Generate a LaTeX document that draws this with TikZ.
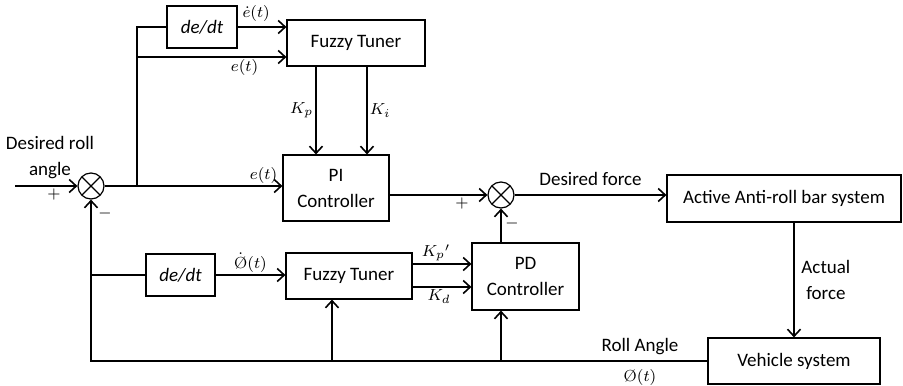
\documentclass[tikz,border=0pt]{standalone}
\usepackage{fontspec}
\setsansfont{Carlito}
\usetikzlibrary{arrows.meta}

\tikzset{
    txt/.style={font=\sffamily\fontsize{9.5}{13}\selectfont, align=center},
    block/.style={txt, draw, line width=0.6pt, inner sep=0pt},
    summer/.style={draw, circle, line width=0.6pt, minimum size=13pt, inner sep=0pt,
        path picture={\draw[line width=0.6pt]
            (path picture bounding box.north west) -- (path picture bounding box.south east)
            (path picture bounding box.north east) -- (path picture bounding box.south west);}},
    sig/.style={line width=0.8pt},
    arr/.style={sig, -{Straight Barb[length=3.5pt,width=6.5pt]}},
    mlbl/.style={font=\footnotesize, inner sep=1pt},
}

\begin{document}
\begin{tikzpicture}[x=0.5pt, y=-0.5pt]
    \useasboundingbox (0,0) rectangle (903,385);

    % Blocks
    \node[block, minimum width=35pt, minimum height=21pt] (ddtA) at (202,27) {\textit{de/dt}};
    \node[block, minimum width=69pt, minimum height=23pt] (fuzzyA) at (356,43) {Fuzzy Tuner};
    \node[block, minimum width=53pt, minimum height=33pt] (pi) at (336,188) {PI\\Controller};
    \node[block, minimum width=117pt, minimum height=23.5pt] (active) at (784,198.5) {Active Anti-roll bar system};
    \node[block, minimum width=86pt, minimum height=23pt] (vehicle) at (794,361) {Vehicle system};
    \node[block, minimum width=53.5pt, minimum height=33.5pt] (pd) at (525.5,276.5) {PD\\Controller};
    \node[block, minimum width=63pt, minimum height=23pt] (fuzzyB) at (349,276) {Fuzzy Tuner};
    \node[block, minimum width=34.5pt, minimum height=21pt] (ddtB) at (180.5,275) {\textit{de/dt}};

    % Summing junctions
    \node[summer] (sumA) at (91,186) {};
    \node[summer] (sumB) at (501,195) {};

    % Free ends and branch points
    \coordinate (in) at (15,186);
    \coordinate (br) at (137,186);
    \coordinate (brE) at (137,57);

    % Forward path
    \draw[arr] (in) -- (sumA.west);
    \draw[arr] (sumA.east) -- (sumA.east -| pi.west) node[mlbl, midway, above, xshift=35pt] {$e(t)$};
    \draw[sig] (br) |- (ddtA.west);
    \draw[arr] (ddtA.east) -- (ddtA.east -| fuzzyA.west) node[mlbl, pos=0.38, above=1.5pt] {$\dot{e}(t)$};
    \draw[arr] (brE) -- (brE -| fuzzyA.west) node[mlbl, pos=0.72, below] {$e(t)$};
    \draw[arr] (fuzzyA.south -| 316,0) -- (pi.north -| 316,0) node[mlbl, midway, left] {$K_p$};
    \draw[arr] (fuzzyA.south -| 367,0) -- (pi.north -| 367,0) node[mlbl, midway, right] {$K_i$};
    \draw[arr] (pi.east |- sumB) -- (sumB.west);
    \draw[arr] (sumB.east) -- (sumB.east -| active.west) node[txt, midway, above=1pt] {Desired force};
    \draw[arr] (vehicle.north |- active.south) -- (vehicle.north) node[txt, midway, right=0pt] {Actual\\force};

    % Feedback path
    \draw[arr] (vehicle.west) -| (sumA.south);
    \draw[sig] (sumA |- ddtB.west) -- (ddtB.west);
    \draw[arr] (ddtB.east) -- (fuzzyB.west |- ddtB.east) node[mlbl, midway, above] {$\dot{\hbox{\O}}(t)$};
    \draw[arr] (vehicle.west -| 332,0) -- (fuzzyB.south -| 332,0);
    \draw[arr] (sumB |- vehicle.west) -- (sumB |- pd.south);
    \draw[arr] (sumB |- pd.north) -- (sumB.south);
    \draw[arr] (fuzzyB.east |- 0,264) -- (pd.west |- 0,264) node[mlbl, pos=0.4, above] {$K_p{}'$};
    \draw[arr] (fuzzyB.east |- 0,287) -- (pd.west |- 0,287) node[mlbl, pos=0.45, below] {$K_d$};

    % Labels
    \node[txt] (desired) at (50,158) {Desired roll\\angle};
    \node[mlbl] (plusA) at (54,194) {$+$};
    \node[mlbl] (minusA) at (105,213) {$-$};
    \node[mlbl] (plusB) at (462,203) {$+$};
    \node[mlbl] (minusB) at (512,223) {$-$};
    \node[txt] (roll) at (640,347) {Roll Angle};
    \node[mlbl] (phi) at (640,377) {\O$(t)$};
\end{tikzpicture}
\end{document}
